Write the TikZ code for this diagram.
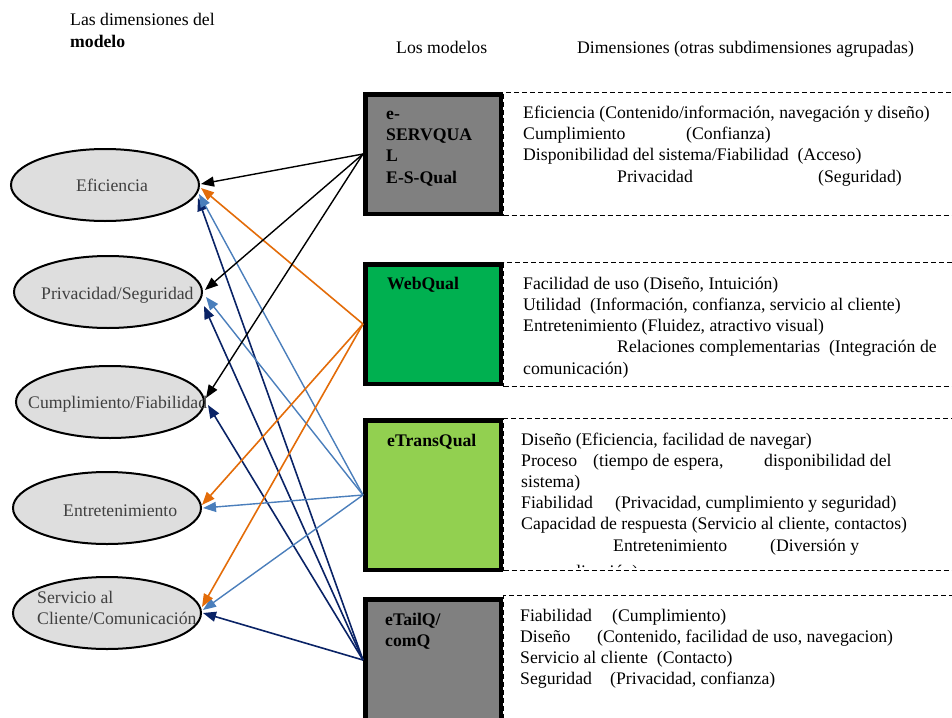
\documentclass[tikz,border=0pt]{standalone}
\usepackage{fontspec}
\setmainfont{Liberation Serif}
\usetikzlibrary{arrows.meta,shapes.geometric,calc}

\definecolor{boxgray}{HTML}{808080}
\definecolor{webgreen}{HTML}{00B050}
\definecolor{transgreen}{HTML}{92D050}
\definecolor{ellfill}{HTML}{DEDEDE}
\definecolor{elltext}{HTML}{404040}
\definecolor{arrorange}{HTML}{E36C09}
\definecolor{arrblue}{HTML}{4A7EBB}
\definecolor{arrnavy}{HTML}{0A2366}

\begin{document}
\begin{tikzpicture}[x=1pt,y=-1pt,
  every node/.style={inner sep=0pt, font=\fontsize{17.7}{21}\selectfont},
  txt/.style={anchor=base west},
  boldtxt/.style={anchor=base west, font=\fontsize{17.7}{21}\selectfont\bfseries},
  elltxt/.style={anchor=base west, text=elltext},
  dimbox/.style={draw=black, line width=1.3pt, dash pattern=on 5pt off 3pt,
                 anchor=north west, minimum width=470pt},
  modelbox/.style={draw=black, line width=4.5pt, anchor=north west,
                   minimum width=135.5pt},
  dimell/.style={ellipse, draw=black, line width=2pt, fill=ellfill,
                 minimum width=188pt, minimum height=72pt},
  link/.style={line width=1.4pt, -{Triangle[length=13pt,width=10pt]}},
]
\useasboundingbox (0,0) rectangle (952,717);

% column headings
\node[txt] (h1) at (70,26) {Las dimensiones del};
\node[boldtxt] (h2) at (70,48) {modelo};
\node[txt] (h3) at (396,53) {Los modelos};
\node[txt] (h4) at (577,53) {Dimensiones (otras subdimensiones agrupadas)};

% dashed panels listing the dimensions of each model
\node[dimbox, minimum height=123pt] (d1) at (503,92) {};
\node[dimbox, minimum height=124pt] (d2) at (503,262) {};
\node[dimbox, minimum height=152pt] (d3) at (503,418) {};
\node[dimbox, minimum height=150pt] (d4) at (503,595) {};

% model boxes
\node[modelbox, fill=boxgray,    minimum height=119.5pt] (m1) at (363,92) {};
\node[modelbox, fill=webgreen,   minimum height=119.5pt] (m2) at (363,262) {};
\node[modelbox, fill=transgreen, minimum height=149.5pt] (m3) at (363,418) {};
\node[modelbox, fill=boxgray,    minimum height=121.5pt] (m4) at (363,597) {};

% model names
\node[boldtxt] (m1a) at (386,119) {e-};
\node[boldtxt] (m1b) at (386,140) {SERVQUA};
\node[boldtxt] (m1c) at (386,161) {L};
\node[boldtxt] (m1d) at (386,183) {E-S-Qual};
\node[boldtxt] (m2a) at (387,289) {WebQual};
\node[boldtxt] (m3a) at (387,446) {eTransQual};
\node[boldtxt] (m4a) at (385,625) {eTailQ/};
\node[boldtxt] (m4b) at (385,646) {comQ};

% e-SERVQUAL / E-S-Qual dimensions
\node[txt] (t1a) at (523,118) {Eficiencia (Contenido/información, navegación y diseño)};
\node[txt] (t1b) at (523,139) {Cumplimiento};
\node[txt] (t1c) at (686,139) {(Confianza)};
\node[txt] (t1d) at (523,160) {Disponibilidad del sistema/Fiabilidad\ \ (Acceso)};
\node[txt] (t1e) at (617,182) {Privacidad};
\node[txt] (t1f) at (818,182) {(Seguridad)};

% WebQual dimensions
\node[txt] (t2a) at (523,289) {Facilidad de uso (Diseño, Intuición)};
\node[txt] (t2b) at (523,310) {Utilidad\ \ (Información, confianza, servicio al cliente)};
\node[txt] (t2c) at (523,331) {Entretenimiento (Fluidez, atractivo visual)};
\node[txt] (t2d) at (617,352) {Relaciones complementarias\ \ (Integración de};
\node[txt] (t2e) at (523,374) {comunicación)};

% eTransQual dimensions
\node[txt] (t3a) at (521,445) {Diseño (Eficiencia, facilidad de navegar)};
\node[txt] (t3b) at (521,466) {Proceso};
\node[txt] (t3c) at (593,466) {(tiempo de espera,};
\node[txt] (t3d) at (764,466) {disponibilidad del};
\node[txt] (t3e) at (521,487) {sistema)};
\node[txt] (t3f) at (521,508) {Fiabilidad};
\node[txt] (t3g) at (615,508) {(Privacidad, cumplimiento y seguridad)};
\node[txt] (t3h) at (521,529) {Capacidad de respuesta (Servicio al cliente, contactos)};
\node[txt] (t3i) at (613,551) {Entretenimiento};
\node[txt] (t3j) at (770,551) {(Diversión y};
% the last line of this panel runs under its bottom edge
\begin{scope}
  \clip (503,418) rectangle (960,567);
  \node[txt] (t3k) at (521,577) {personalización)};
\end{scope}

% eTailQ / comQ dimensions
\node[txt] (t4a) at (520,621) {Fiabilidad};
\node[txt] (t4b) at (612,621) {(Cumplimiento)};
\node[txt] (t4c) at (520,642) {Diseño};
\node[txt] (t4d) at (597,642) {(Contenido, facilidad de uso, navegacion)};
\node[txt] (t4e) at (520,663) {Servicio al cliente\ \ (Contacto)};
\node[txt] (t4f) at (520,684) {Seguridad};
\node[txt] (t4g) at (610,684) {(Privacidad, confianza)};

% dimensions of the model
\node[dimell] (e1) at (105,185) {};
\node[dimell] (e2) at (108,292) {};
\node[dimell] (e3) at (110,402) {};
\node[dimell] (e4) at (107,508) {};
\node[dimell] (e5) at (107,613) {};
\node[elltxt] (l1) at (76,191) {Eficiencia};
\node[elltxt] (l2) at (41,299) {Privacidad/Seguridad};
\node[elltxt] (l3) at (28,408) {Cumplimiento/Fiabilidad};
\node[elltxt] (l4) at (63,516) {Entretenimiento};
\node[elltxt] (l5a) at (37,603) {Servicio al};
\node[elltxt] (l5b) at (37,624) {Cliente/Comunicación};

% eTailQ/comQ links
\draw[link, arrnavy, line width=1.6pt] (m4.west) -- ($(e1.east)+(-2,13)$);
\draw[link, arrnavy, line width=1.6pt] (m4.west) -- ($(e2.east)+(1,14)$);
\draw[link, arrnavy, line width=1.6pt] (m4.west) -- ($(e3.east)+(3,3)$);
\draw[link, arrnavy, line width=1.6pt] (m4.west) -- ($(e5.east)+(1,0)$);
% eTransQual links
\draw[link, arrblue] (m3.west) -- ($(e1.east)+(-1,9)$);
\draw[link, arrblue] (m3.west) -- ($(e2.east)+(3,5)$);
\draw[link, arrblue] (m3.west) -- ($(e4.east)+(1,0)$);
\draw[link, arrblue] (m3.west) -- ($(e5.east)+(1,-3)$);
% WebQual links
\draw[link, arrorange, line width=1.6pt] (m2.west) -- ($(e1.east)+(1,3)$);
\draw[link, arrorange, line width=1.6pt] (m2.west) -- ($(e4.east)+(0,-3)$);
\draw[link, arrorange, line width=1.6pt] (m2.west) -- ($(e5.east)+(0,-6)$);
% e-SERVQUAL links
\draw[link, black] (m1.west) -- ($(e1.east)+(1,-1)$);
\draw[link, black] (m1.west) -- ($(e2.east)+(2,-2)$);
\draw[link, black] (m1.west) -- ($(e3.east)+(1,-4)$);
\end{tikzpicture}
\end{document}
